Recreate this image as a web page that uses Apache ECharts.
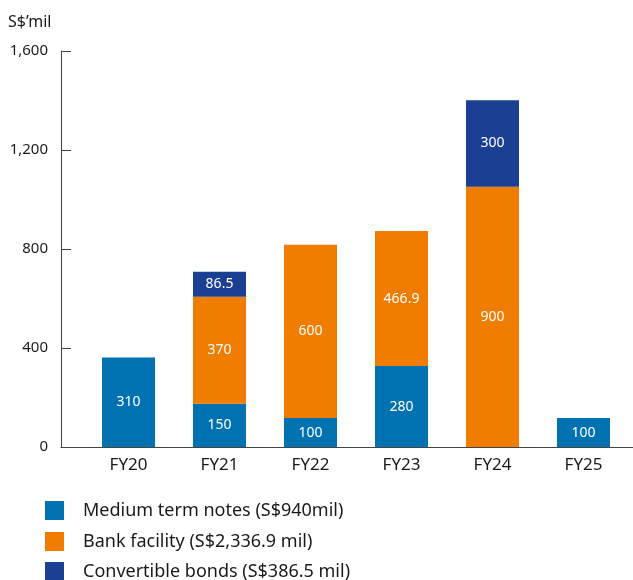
<!DOCTYPE html>
<html>
<head>
<meta charset="utf-8">
<script src="https://cdn.jsdelivr.net/npm/echarts@6/dist/echarts.min.js"></script>
<style>html,body{margin:0;padding:0;background:#fff;}#c{width:633px;height:580px;}</style>
</head>
<body>
<div id="c"></div>
<script>
var categories = ['FY20', 'FY21', 'FY22', 'FY23', 'FY24', 'FY25'];
var mediumTermNotes = [310, 150, 100, 280, null, 100];
var bankFacility = [null, 370, 600, 466.9, 900, null];
var convertibleBonds = [null, 86.5, null, null, 300, null];
var seriesNames = ['Medium term notes (S$940mil)', 'Bank facility (S$2,336.9 mil)', 'Convertible bonds (S$386.5 mil)'];
var yTickLabels = ['0', '400', '800', '1,200', '1,600'];
var unitLabel = 'S$\u2019mil';

var FONT = 'Noto Sans';
var TXT = '#1a1a1a';
var colors = ['#0072B1', '#F07C00', '#1B3F93'];

var chart = echarts.init(document.getElementById('c'));

function barSeries(name, data, color) {
  return {
    name: name, type: 'bar', stack: 'total', xAxisIndex: 0, yAxisIndex: 0,
    data: data, barWidth: 53,
    itemStyle: { color: color },
    label: {
      show: true, position: 'inside', color: '#fff', fontFamily: FONT, fontSize: 14,
      formatter: function (p) { return p.value == null ? '' : String(p.value); }
    }
  };
}

var legendTops = [501, 532, 562];
var legends = seriesNames.map(function (n, i) {
  return {
    orient: 'vertical', left: 45, top: legendTops[i], padding: 0,
    itemWidth: 19, itemHeight: 19, icon: 'rect', selectedMode: false,
    data: [n],
    textStyle: { fontFamily: FONT, fontSize: 18, color: TXT, padding: [0, 0, 0, 14] }
  };
});

chart.setOption({
  animation: false,
  textStyle: { fontFamily: FONT },
  title: {
    text: unitLabel, left: 8, top: 14, padding: 0,
    textStyle: { fontFamily: FONT, fontSize: 16, fontWeight: 'normal', color: TXT }
  },
  legend: legends,
  grid: [
    { left: 83, right: 4, top: 51, bottom: 133 },
    { left: 61, right: 0, top: 51, bottom: 133 }
  ],
  xAxis: [
    {
      type: 'category', gridIndex: 0, data: categories,
      axisLine: { show: false }, axisTick: { show: false },
      axisLabel: { fontFamily: FONT, fontSize: 17, color: TXT, margin: 10 }
    },
    {
      type: 'value', gridIndex: 1, min: 0, max: 1,
      axisLine: { show: true, lineStyle: { color: '#444', width: 1 } },
      axisTick: { show: false }, axisLabel: { show: false }, splitLine: { show: false }
    }
  ],
  yAxis: [
    {
      type: 'value', gridIndex: 0, min: 0, max: 1370,
      show: false, splitLine: { show: false }
    },
    {
      type: 'value', gridIndex: 1, min: 0, max: 1600, interval: 400,
      axisLine: { show: true, lineStyle: { color: '#444', width: 1 } },
      axisTick: { show: true, inside: true, length: 10, lineStyle: { color: '#444' } },
      axisLabel: {
        fontFamily: FONT, fontSize: 15, color: TXT, margin: 13,
        formatter: function (v) { return yTickLabels[Math.round(v / 400)]; }
      },
      splitLine: { show: false }
    }
  ],
  series: [
    barSeries(seriesNames[0], mediumTermNotes, colors[0]),
    barSeries(seriesNames[1], bankFacility, colors[1]),
    barSeries(seriesNames[2], convertibleBonds, colors[2])
  ]
});
</script>
</body>
</html>
